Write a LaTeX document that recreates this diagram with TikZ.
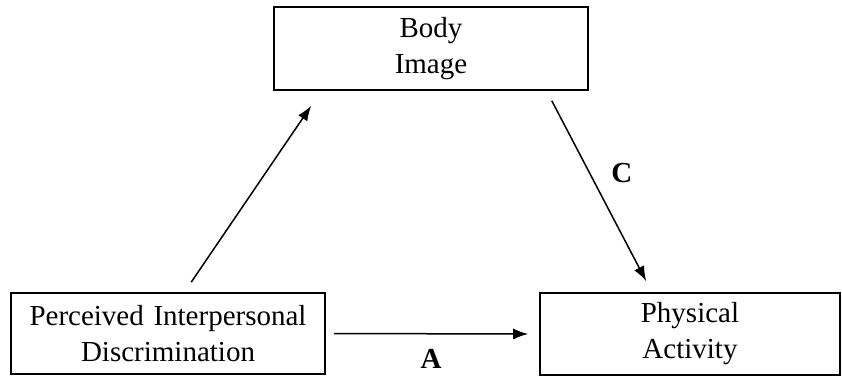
\documentclass[tikz,border=0pt]{standalone}
\usepackage{fontspec}
\setmainfont{Liberation Serif}
\usetikzlibrary{arrows.meta}

\tikzstyle{block} = [rectangle, draw, line width=1.6pt, inner sep=0pt,
    text width=300pt, align=center, font=\fontsize{29}{36}\selectfont]
\tikzstyle{line} = [draw, line width=1.5pt, -{Latex[length=15pt,width=11pt]}]
\tikzstyle{tag} = [inner sep=0pt, font=\fontsize{29}{36}\selectfont\bfseries]

\begin{document}
\begin{tikzpicture}[x=1pt, y=-1pt]
    \useasboundingbox (0,0) rectangle (842,376);
    % Place nodes
    \node [block, minimum width=314pt, minimum height=83pt] (body) at (431,48.5) {Body\\Image};
    \node [block, minimum width=314pt, minimum height=81pt] (perceived) at (168,333.5) {Perceived Interpersonal\\Discrimination};
    \node [block, minimum width=300pt, minimum height=82pt] (activity) at (690,334) {Physical\\Activity};

    % Paths
    \path [line] ([xshift=181pt, yshift=10pt] perceived.north west) -- ([xshift=38pt, yshift=-15pt] body.south west);
    \path [line] ([xshift=-37pt, yshift=-10pt] body.south east) -- ([xshift=107pt, yshift=11pt] activity.north west)
        node [tag, pos=0.4, right=21pt] {C};
    \path [line] ([xshift=8pt] perceived.east) -- ([xshift=-11pt] activity.west)
        node [tag, pos=0.5, below=15pt] {A};

\end{tikzpicture}
\end{document}
